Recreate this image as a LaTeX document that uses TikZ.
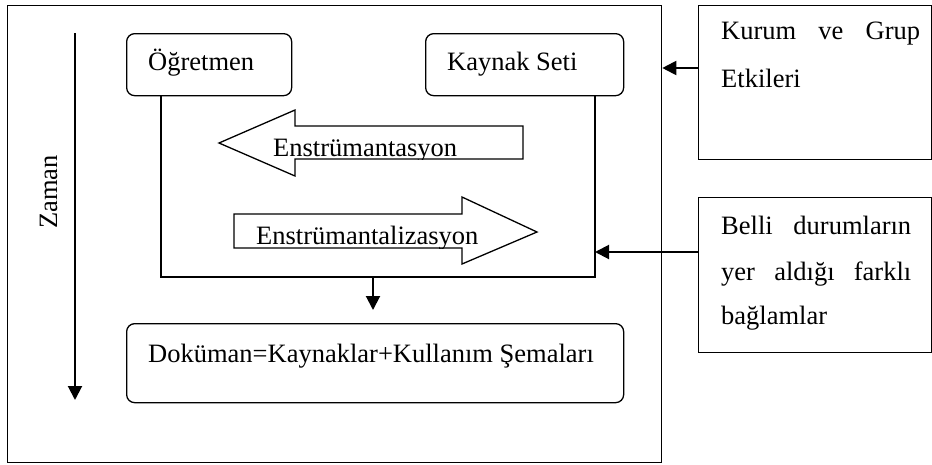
\documentclass[tikz,border=0pt]{standalone}
\usepackage{fontspec}
\setmainfont{Liberation Serif}
\usetikzlibrary{arrows.meta}
\begin{document}
\begin{tikzpicture}[x=1pt,y=-1pt,
  box/.style={draw,line width=1.3pt,inner sep=0pt,anchor=north west},
  rbox/.style={box,rounded corners=8pt},
  txt/.style={inner sep=0pt,anchor=base west,font=\fontsize{26.5}{30}\selectfont},
  conn/.style={line width=1.4pt},
  arr/.style={line width=2pt,-{Triangle[length=14pt,width=14pt]}},
  blk/.style={draw,line width=1.3pt}]
\useasboundingbox (0,0) rectangle (932,464);

\node[box,minimum width=654pt,minimum height=457pt] (outer) at (7,5) {};
\node[rbox,minimum width=165pt,minimum height=62pt] (ogr) at (126,33) {};
\node[txt] (ogrt) at (148,70) {Öğretmen};
\node[rbox,minimum width=198pt,minimum height=62pt] (kay) at (425,33) {};
\node[txt] (kayt) at (447,70) {Kaynak Seti};
\node[rbox,minimum width=497pt,minimum height=79pt] (doc) at (126,323) {};
\node[txt] (doct) at (148,362) {Doküman=Kaynaklar+Kullanım Şemaları};

\node[box,minimum width=233pt,minimum height=154pt] (kur) at (698,5) {};
\node[txt] (kur1) at (721,39) {\makebox[199pt][s]{Kurum ve Grup}};
\node[txt] (kur2) at (721,87) {Etkileri};
\node[box,minimum width=233pt,minimum height=155pt] (bel) at (698,197) {};
\node[txt] (bel1) at (721,234) {\makebox[190pt][s]{Belli durumların}};
\node[txt] (bel2) at (721,280) {\makebox[190pt][s]{yer aldığı farklı}};
\node[txt] (bel3) at (721,324) {bağlamlar};

\node[txt,anchor=base,rotate=90] (zam) at (57,192) {Zaman};
\coordinate (zs) at (75,33);
\coordinate (ze) at (75,400);
\draw[arr] (zs) -- (ze);

\coordinate (ibl) at (161,277);
\coordinate (ibr) at (595,277);
\draw[conn] (ogr.south -| ibl) -- (ibl) -- (ibr) -- (kay.south -| ibr);
\coordinate (dtop) at (373,277);
\coordinate (dend) at (373,310);
\draw[arr] (dtop) -- (dend);

\coordinate (ka) at (0,68);
\draw[arr] (kur.west |- ka) -- (outer.east |- ka);
\coordinate (ba) at (0,252);
\draw[arr] (bel.west |- ba) -- (ibr |- ba);

% left block arrow
\draw[blk] (219,143) -- (295,110) -- (295,126) -- (523,126) -- (523,159) -- (295,159) -- (295,176) -- cycle;
\begin{scope}
\clip (219,143) -- (295,110) -- (295,126) -- (523,126) -- (523,159) -- (295,159) -- (295,176) -- cycle;
\node[txt] (ens1) at (273,156.5) {Enstrümantasyon};
\end{scope}

% right block arrow
\draw[blk] (234,214) -- (462,214) -- (462,197) -- (537,232) -- (462,264) -- (462,248) -- (234,248) -- cycle;
\begin{scope}
\clip (234,214) -- (462,214) -- (462,197) -- (537,232) -- (462,264) -- (462,248) -- (234,248) -- cycle;
\node[txt] (ens2) at (256,244) {Enstrümantalizasyon};
\end{scope}
\end{tikzpicture}
\end{document}
